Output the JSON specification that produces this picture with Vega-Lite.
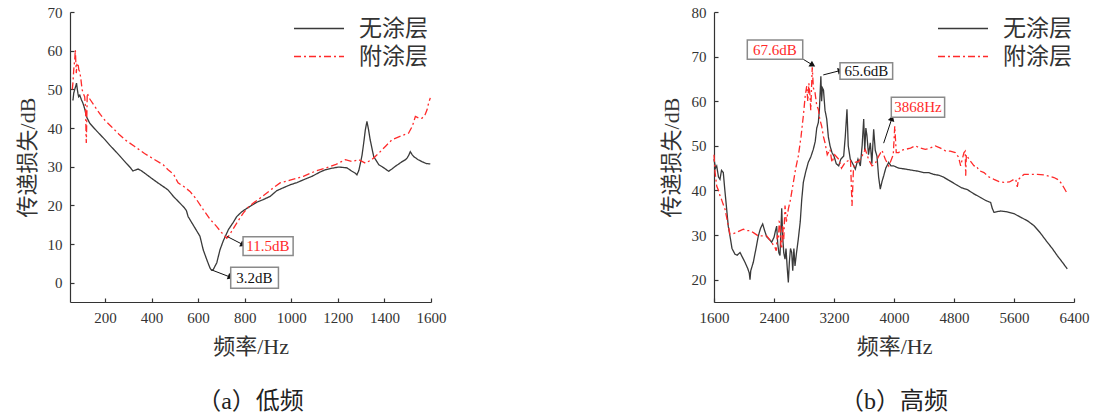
{
  "$schema": "https://vega.github.io/schema/vega-lite/v6.json",
  "padding": {"left": 16, "top": 5, "right": 5, "bottom": 5},
  "background": "white",
  "spacing": 283,
  "bounds": "flush",
  "config": {
    "view": {"stroke": null},
    "axis": {
      "grid": false,
      "domainColor": "#333333",
      "domainWidth": 1.2,
      "tickColor": "#333333",
      "tickWidth": 1.2,
      "tickSize": -4,
      "labelColor": "#333333",
      "titleColor": "#333333",
      "labelFont": "Liberation Serif",
      "labelFontSize": 15,
      "titleFont": "Liberation Serif, Noto Sans CJK SC",
      "titleFontSize": 22,
      "titleFontWeight": "normal",
      "labelFlush": false,
      "labelOverlap": false
    },
    "title": {
      "orient": "bottom",
      "font": "Liberation Serif, Noto Sans CJK SC",
      "fontSize": 24,
      "fontWeight": "normal",
      "color": "#222222",
      "anchor": "middle",
      "offset": 33
    }
  },
  "datasets": {
    "low": [
      {"f":60,"db":47.3,"s":"无涂层"},{"f":63,"db":47.3,"s":"无涂层"},{"f":66,"db":49,"s":"无涂层"},{"f":70,"db":49.9,"s":"无涂层"},{"f":74,"db":50.7,"s":"无涂层"},{"f":78,"db":51.6,"s":"无涂层"},{"f":81,"db":50.2,"s":"无涂层"},{"f":84,"db":49,"s":"无涂层"},{"f":87,"db":48.1,"s":"无涂层"},{"f":92,"db":48.5,"s":"无涂层"},{"f":99,"db":47.3,"s":"无涂层"},{"f":105,"db":46.5,"s":"无涂层"},{"f":110,"db":45.6,"s":"无涂层"},{"f":115,"db":44.5,"s":"无涂层"},{"f":120,"db":43,"s":"无涂层"},{"f":127,"db":42.2,"s":"无涂层"},{"f":134,"db":41.3,"s":"无涂层"},{"f":150,"db":40.2,"s":"无涂层"},{"f":165,"db":39.2,"s":"无涂层"},{"f":184,"db":38,"s":"无涂层"},{"f":200,"db":37,"s":"无涂层"},{"f":220,"db":35.6,"s":"无涂层"},{"f":242,"db":34.2,"s":"无涂层"},{"f":265,"db":32.7,"s":"无涂层"},{"f":290,"db":31,"s":"无涂层"},{"f":310,"db":29.7,"s":"无涂层"},{"f":320,"db":28.9,"s":"无涂层"},{"f":330,"db":29.1,"s":"无涂层"},{"f":342,"db":29.4,"s":"无涂层"},{"f":355,"db":29,"s":"无涂层"},{"f":371,"db":28.3,"s":"无涂层"},{"f":400,"db":27,"s":"无涂层"},{"f":430,"db":25.7,"s":"无涂层"},{"f":471,"db":24,"s":"无涂层"},{"f":494,"db":22.3,"s":"无涂层"},{"f":520,"db":20.7,"s":"无涂层"},{"f":542,"db":19.3,"s":"无涂层"},{"f":550,"db":18.6,"s":"无涂层"},{"f":557,"db":17.1,"s":"无涂层"},{"f":565,"db":16.3,"s":"无涂层"},{"f":578,"db":15,"s":"无涂层"},{"f":595,"db":13.3,"s":"无涂层"},{"f":608,"db":12,"s":"无涂层"},{"f":622,"db":8.5,"s":"无涂层"},{"f":637,"db":6,"s":"无涂层"},{"f":651,"db":3.8,"s":"无涂层"},{"f":658,"db":3.2,"s":"无涂层"},{"f":665,"db":3.4,"s":"无涂层"},{"f":680,"db":5.1,"s":"无涂层"},{"f":694,"db":8.5,"s":"无涂层"},{"f":708,"db":10.8,"s":"无涂层"},{"f":730,"db":13.7,"s":"无涂层"},{"f":751,"db":15.6,"s":"无涂层"},{"f":766,"db":17.1,"s":"无涂层"},{"f":785,"db":18.2,"s":"无涂层"},{"f":801,"db":18.9,"s":"无涂层"},{"f":825,"db":19.8,"s":"无涂层"},{"f":852,"db":20.8,"s":"无涂层"},{"f":880,"db":21.5,"s":"无涂层"},{"f":909,"db":22.3,"s":"无涂层"},{"f":938,"db":23.8,"s":"无涂层"},{"f":968,"db":24.6,"s":"无涂层"},{"f":995,"db":25.3,"s":"无涂层"},{"f":1025,"db":25.9,"s":"无涂层"},{"f":1052,"db":26.6,"s":"无涂层"},{"f":1089,"db":27.5,"s":"无涂层"},{"f":1120,"db":28.5,"s":"无涂层"},{"f":1146,"db":29.2,"s":"无涂层"},{"f":1175,"db":29.6,"s":"无涂层"},{"f":1204,"db":29.9,"s":"无涂层"},{"f":1239,"db":29.7,"s":"无涂层"},{"f":1261,"db":28.8,"s":"无涂层"},{"f":1275,"db":28.3,"s":"无涂层"},{"f":1282,"db":27.9,"s":"无涂层"},{"f":1290,"db":29,"s":"无涂层"},{"f":1297,"db":30.9,"s":"无涂层"},{"f":1304,"db":33,"s":"无涂层"},{"f":1311,"db":36.1,"s":"无涂层"},{"f":1318,"db":39.5,"s":"无涂层"},{"f":1325,"db":41.7,"s":"无涂层"},{"f":1332,"db":39.5,"s":"无涂层"},{"f":1339,"db":36.9,"s":"无涂层"},{"f":1354,"db":32.6,"s":"无涂层"},{"f":1376,"db":30.5,"s":"无涂层"},{"f":1400,"db":29.6,"s":"无涂层"},{"f":1418,"db":28.8,"s":"无涂层"},{"f":1432,"db":29.4,"s":"无涂层"},{"f":1447,"db":30.1,"s":"无涂层"},{"f":1476,"db":31.3,"s":"无涂层"},{"f":1490,"db":31.8,"s":"无涂层"},{"f":1497,"db":32.2,"s":"无涂层"},{"f":1505,"db":33,"s":"无涂层"},{"f":1511,"db":33.9,"s":"无涂层"},{"f":1518,"db":33.2,"s":"无涂层"},{"f":1526,"db":32.6,"s":"无涂层"},{"f":1545,"db":31.8,"s":"无涂层"},{"f":1561,"db":31.3,"s":"无涂层"},{"f":1580,"db":30.8,"s":"无涂层"},{"f":1597,"db":30.7,"s":"无涂层"},
      {"f":60,"db":50,"s":"附涂层"},{"f":63,"db":52,"s":"附涂层"},{"f":66,"db":55,"s":"附涂层"},{"f":70,"db":57.5,"s":"附涂层"},{"f":73,"db":60.2,"s":"附涂层"},{"f":75,"db":57,"s":"附涂层"},{"f":77,"db":54.2,"s":"附涂层"},{"f":80,"db":56.5,"s":"附涂层"},{"f":84,"db":56.8,"s":"附涂层"},{"f":88,"db":55,"s":"附涂层"},{"f":92,"db":54.6,"s":"附涂层"},{"f":97,"db":52.5,"s":"附涂层"},{"f":102,"db":49.9,"s":"附涂层"},{"f":108,"db":48.8,"s":"附涂层"},{"f":113,"db":48.1,"s":"附涂层"},{"f":117,"db":45,"s":"附涂层"},{"f":119,"db":38,"s":"附涂层"},{"f":120,"db":36.1,"s":"附涂层"},{"f":122,"db":42,"s":"附涂层"},{"f":124,"db":49,"s":"附涂层"},{"f":135,"db":47.5,"s":"附涂层"},{"f":156,"db":45.6,"s":"附涂层"},{"f":180,"db":43.5,"s":"附涂层"},{"f":200,"db":42,"s":"附涂层"},{"f":227,"db":40.4,"s":"附涂层"},{"f":260,"db":38.4,"s":"附涂层"},{"f":290,"db":36.8,"s":"附涂层"},{"f":328,"db":35.2,"s":"附涂层"},{"f":370,"db":33.4,"s":"附涂层"},{"f":414,"db":31.8,"s":"附涂层"},{"f":450,"db":30.5,"s":"附涂层"},{"f":471,"db":29.2,"s":"附涂层"},{"f":495,"db":28,"s":"附涂层"},{"f":514,"db":25.8,"s":"附涂层"},{"f":540,"db":24.8,"s":"附涂层"},{"f":565,"db":23.6,"s":"附涂层"},{"f":590,"db":21.8,"s":"附涂层"},{"f":622,"db":18.9,"s":"附涂层"},{"f":650,"db":16.5,"s":"附涂层"},{"f":680,"db":14.5,"s":"附涂层"},{"f":700,"db":13,"s":"附涂层"},{"f":716,"db":12,"s":"附涂层"},{"f":723,"db":11.5,"s":"附涂层"},{"f":733,"db":12.2,"s":"附涂层"},{"f":744,"db":13.3,"s":"附涂层"},{"f":770,"db":15.8,"s":"附涂层"},{"f":794,"db":18,"s":"附涂层"},{"f":815,"db":19.5,"s":"附涂层"},{"f":837,"db":20.6,"s":"附涂层"},{"f":865,"db":21.8,"s":"附涂层"},{"f":895,"db":23.2,"s":"附涂层"},{"f":925,"db":24.6,"s":"附涂层"},{"f":952,"db":25.8,"s":"附涂层"},{"f":995,"db":26.5,"s":"附涂层"},{"f":1052,"db":27.5,"s":"附涂层"},{"f":1102,"db":28.8,"s":"附涂层"},{"f":1146,"db":29.6,"s":"附涂层"},{"f":1189,"db":30.5,"s":"附涂层"},{"f":1232,"db":31.8,"s":"附涂层"},{"f":1261,"db":31.3,"s":"附涂层"},{"f":1290,"db":31.8,"s":"附涂层"},{"f":1318,"db":30.9,"s":"附涂层"},{"f":1345,"db":31.8,"s":"附涂层"},{"f":1376,"db":33.5,"s":"附涂层"},{"f":1405,"db":35.3,"s":"附涂层"},{"f":1433,"db":37,"s":"附涂层"},{"f":1470,"db":37.9,"s":"附涂层"},{"f":1504,"db":38.7,"s":"附涂层"},{"f":1520,"db":40.5,"s":"附涂层"},{"f":1533,"db":43,"s":"附涂层"},{"f":1547,"db":42.6,"s":"附涂层"},{"f":1561,"db":42.5,"s":"附涂层"},{"f":1575,"db":43.5,"s":"附涂层"},{"f":1583,"db":44.7,"s":"附涂层"},{"f":1590,"db":46.5,"s":"附涂层"},{"f":1597,"db":47.8,"s":"附涂层"}
    ],
    "high": [
      {"f":1600,"db":47,"s":"无涂层"},{"f":1620,"db":45,"s":"无涂层"},{"f":1636,"db":45.5,"s":"无涂层"},{"f":1660,"db":43,"s":"无涂层"},{"f":1680,"db":42.5,"s":"无涂层"},{"f":1700,"db":44.5,"s":"无涂层"},{"f":1724,"db":44,"s":"无涂层"},{"f":1745,"db":40,"s":"无涂层"},{"f":1769,"db":35.8,"s":"无涂层"},{"f":1790,"db":32,"s":"无涂层"},{"f":1813,"db":29.8,"s":"无涂层"},{"f":1840,"db":27,"s":"无涂层"},{"f":1880,"db":25.7,"s":"无涂层"},{"f":1910,"db":25.5,"s":"无涂层"},{"f":1947,"db":26.1,"s":"无涂层"},{"f":1980,"db":25,"s":"无涂层"},{"f":2013,"db":23.9,"s":"无涂层"},{"f":2050,"db":22.5,"s":"无涂层"},{"f":2070,"db":21.5,"s":"无涂层"},{"f":2080,"db":20,"s":"无涂层"},{"f":2090,"db":22,"s":"无涂层"},{"f":2124,"db":23.9,"s":"无涂层"},{"f":2160,"db":27,"s":"无涂层"},{"f":2191,"db":29.8,"s":"无涂层"},{"f":2220,"db":31.5,"s":"无涂层"},{"f":2249,"db":32.5,"s":"无涂层"},{"f":2275,"db":31,"s":"无涂层"},{"f":2303,"db":29.6,"s":"无涂层"},{"f":2340,"db":29,"s":"无涂层"},{"f":2369,"db":28.4,"s":"无涂层"},{"f":2400,"db":29.5,"s":"无涂层"},{"f":2420,"db":31,"s":"无涂层"},{"f":2436,"db":32,"s":"无涂层"},{"f":2450,"db":28,"s":"无涂层"},{"f":2465,"db":26,"s":"无涂层"},{"f":2480,"db":25.4,"s":"无涂层"},{"f":2490,"db":30,"s":"无涂层"},{"f":2503,"db":36,"s":"无涂层"},{"f":2515,"db":30,"s":"无涂层"},{"f":2530,"db":26,"s":"无涂层"},{"f":2547,"db":24.6,"s":"无涂层"},{"f":2560,"db":27,"s":"无涂层"},{"f":2575,"db":23,"s":"无涂层"},{"f":2591,"db":19.4,"s":"无涂层"},{"f":2605,"db":24,"s":"无涂层"},{"f":2620,"db":27,"s":"无涂层"},{"f":2636,"db":26.1,"s":"无涂层"},{"f":2650,"db":22,"s":"无涂层"},{"f":2665,"db":27,"s":"无涂层"},{"f":2680,"db":23.1,"s":"无涂层"},{"f":2700,"db":26,"s":"无涂层"},{"f":2724,"db":29.1,"s":"无涂层"},{"f":2750,"db":33,"s":"无涂层"},{"f":2770,"db":38,"s":"无涂层"},{"f":2791,"db":41.8,"s":"无涂层"},{"f":2820,"db":44,"s":"无涂层"},{"f":2857,"db":46.3,"s":"无涂层"},{"f":2890,"db":47.5,"s":"无涂层"},{"f":2924,"db":49.2,"s":"无涂层"},{"f":2950,"db":51,"s":"无涂层"},{"f":2970,"db":54,"s":"无涂层"},{"f":2991,"db":55.2,"s":"无涂层"},{"f":3005,"db":58,"s":"无涂层"},{"f":3025,"db":65.6,"s":"无涂层"},{"f":3035,"db":60,"s":"无涂层"},{"f":3045,"db":63,"s":"无涂层"},{"f":3060,"db":62.5,"s":"无涂层"},{"f":3080,"db":58,"s":"无涂层"},{"f":3103,"db":56,"s":"无涂层"},{"f":3125,"db":52,"s":"无涂层"},{"f":3147,"db":50,"s":"无涂层"},{"f":3173,"db":48.5,"s":"无涂层"},{"f":3200,"db":47.7,"s":"无涂层"},{"f":3230,"db":46,"s":"无涂层"},{"f":3263,"db":45.5,"s":"无涂层"},{"f":3290,"db":47,"s":"无涂层"},{"f":3329,"db":47.7,"s":"无涂层"},{"f":3350,"db":52,"s":"无涂层"},{"f":3373,"db":58.2,"s":"无涂层"},{"f":3390,"db":50,"s":"无涂层"},{"f":3417,"db":47,"s":"无涂层"},{"f":3450,"db":46,"s":"无涂层"},{"f":3484,"db":44.8,"s":"无涂层"},{"f":3520,"db":47,"s":"无涂层"},{"f":3551,"db":45.5,"s":"无涂层"},{"f":3575,"db":50,"s":"无涂层"},{"f":3596,"db":56,"s":"无涂层"},{"f":3610,"db":49,"s":"无涂层"},{"f":3625,"db":54,"s":"无涂层"},{"f":3640,"db":52.2,"s":"无涂层"},{"f":3660,"db":48,"s":"无涂层"},{"f":3684,"db":50.7,"s":"无涂层"},{"f":3705,"db":46,"s":"无涂层"},{"f":3729,"db":53.7,"s":"无涂层"},{"f":3750,"db":49,"s":"无涂层"},{"f":3773,"db":47.7,"s":"无涂层"},{"f":3795,"db":43,"s":"无涂层"},{"f":3817,"db":40.3,"s":"无涂层"},{"f":3840,"db":42,"s":"无涂层"},{"f":3863,"db":43.3,"s":"无涂层"},{"f":3890,"db":45,"s":"无涂层"},{"f":3929,"db":46.3,"s":"无涂层"},{"f":3960,"db":45.5,"s":"无涂层"},{"f":3996,"db":45.5,"s":"无涂层"},{"f":4063,"db":45,"s":"无涂层"},{"f":4150,"db":44.8,"s":"无涂层"},{"f":4250,"db":44.5,"s":"无涂层"},{"f":4330,"db":44.3,"s":"无涂层"},{"f":4400,"db":44,"s":"无涂层"},{"f":4463,"db":44,"s":"无涂层"},{"f":4530,"db":43.6,"s":"无涂层"},{"f":4600,"db":43.4,"s":"无涂层"},{"f":4660,"db":43,"s":"无涂层"},{"f":4729,"db":42.3,"s":"无涂层"},{"f":4780,"db":41.8,"s":"无涂层"},{"f":4840,"db":41.2,"s":"无涂层"},{"f":4900,"db":40.6,"s":"无涂层"},{"f":4977,"db":40.2,"s":"无涂层"},{"f":5060,"db":39.3,"s":"无涂层"},{"f":5156,"db":38.4,"s":"无涂层"},{"f":5230,"db":37.7,"s":"无涂层"},{"f":5289,"db":37.3,"s":"无涂层"},{"f":5310,"db":36,"s":"无涂层"},{"f":5333,"db":35.1,"s":"无涂层"},{"f":5420,"db":35.4,"s":"无涂层"},{"f":5511,"db":35.2,"s":"无涂层"},{"f":5600,"db":34.8,"s":"无涂层"},{"f":5689,"db":34,"s":"无涂层"},{"f":5780,"db":33.2,"s":"无涂层"},{"f":5867,"db":32.1,"s":"无涂层"},{"f":5950,"db":30.5,"s":"无涂层"},{"f":6044,"db":28.4,"s":"无涂层"},{"f":6110,"db":27,"s":"无涂层"},{"f":6177,"db":25.4,"s":"无涂层"},{"f":6250,"db":23.8,"s":"无涂层"},{"f":6311,"db":22.4,"s":"无涂层"},
      {"f":1600,"db":48,"s":"附涂层"},{"f":1615,"db":44,"s":"附涂层"},{"f":1636,"db":41,"s":"附涂层"},{"f":1660,"db":40,"s":"附涂层"},{"f":1680,"db":38.8,"s":"附涂层"},{"f":1700,"db":38,"s":"附涂层"},{"f":1720,"db":37,"s":"附涂层"},{"f":1747,"db":35.8,"s":"附涂层"},{"f":1780,"db":33,"s":"附涂层"},{"f":1813,"db":30.2,"s":"附涂层"},{"f":1850,"db":30.3,"s":"附涂层"},{"f":1902,"db":30.6,"s":"附涂层"},{"f":1950,"db":31,"s":"附涂层"},{"f":1991,"db":31.3,"s":"附涂层"},{"f":2040,"db":31,"s":"附涂层"},{"f":2080,"db":31,"s":"附涂层"},{"f":2130,"db":30.5,"s":"附涂层"},{"f":2191,"db":29.8,"s":"附涂层"},{"f":2250,"db":29.8,"s":"附涂层"},{"f":2303,"db":29.8,"s":"附涂层"},{"f":2340,"db":29,"s":"附涂层"},{"f":2369,"db":28.4,"s":"附涂层"},{"f":2400,"db":27.5,"s":"附涂层"},{"f":2413,"db":27.2,"s":"附涂层"},{"f":2430,"db":26.5,"s":"附涂层"},{"f":2445,"db":30,"s":"附涂层"},{"f":2458,"db":29.1,"s":"附涂层"},{"f":2470,"db":33,"s":"附涂层"},{"f":2480,"db":32.8,"s":"附涂层"},{"f":2490,"db":28,"s":"附涂层"},{"f":2503,"db":26.9,"s":"附涂层"},{"f":2515,"db":32,"s":"附涂层"},{"f":2530,"db":29,"s":"附涂层"},{"f":2547,"db":36.6,"s":"附涂层"},{"f":2565,"db":33,"s":"附涂层"},{"f":2591,"db":35.8,"s":"附涂层"},{"f":2620,"db":38,"s":"附涂层"},{"f":2658,"db":41.8,"s":"附涂层"},{"f":2690,"db":45,"s":"附涂层"},{"f":2724,"db":47.7,"s":"附涂层"},{"f":2760,"db":52,"s":"附涂层"},{"f":2791,"db":56.7,"s":"附涂层"},{"f":2815,"db":61,"s":"附涂层"},{"f":2836,"db":63.4,"s":"附涂层"},{"f":2850,"db":60,"s":"附涂层"},{"f":2865,"db":64,"s":"附涂层"},{"f":2880,"db":61.2,"s":"附涂层"},{"f":2890,"db":58,"s":"附涂层"},{"f":2910,"db":67.6,"s":"附涂层"},{"f":2925,"db":63,"s":"附涂层"},{"f":2947,"db":61.9,"s":"附涂层"},{"f":2970,"db":59,"s":"附涂层"},{"f":2991,"db":58.2,"s":"附涂层"},{"f":3010,"db":56,"s":"附涂层"},{"f":3036,"db":54.4,"s":"附涂层"},{"f":3060,"db":52,"s":"附涂层"},{"f":3080,"db":50.7,"s":"附涂层"},{"f":3110,"db":48,"s":"附涂层"},{"f":3147,"db":49.2,"s":"附涂层"},{"f":3173,"db":46.3,"s":"附涂层"},{"f":3210,"db":48,"s":"附涂层"},{"f":3263,"db":47,"s":"附涂层"},{"f":3300,"db":45,"s":"附涂层"},{"f":3351,"db":46.3,"s":"附涂层"},{"f":3420,"db":47,"s":"附涂层"},{"f":3440,"db":36.5,"s":"附涂层"},{"f":3460,"db":45,"s":"附涂层"},{"f":3484,"db":46.3,"s":"附涂层"},{"f":3530,"db":46.5,"s":"附涂层"},{"f":3573,"db":47.7,"s":"附涂层"},{"f":3617,"db":49.2,"s":"附涂层"},{"f":3660,"db":47,"s":"附涂层"},{"f":3707,"db":45.5,"s":"附涂层"},{"f":3750,"db":46,"s":"附涂层"},{"f":3796,"db":47.7,"s":"附涂层"},{"f":3840,"db":49,"s":"附涂层"},{"f":3884,"db":47,"s":"附涂层"},{"f":3930,"db":45.5,"s":"附涂层"},{"f":3951,"db":46.3,"s":"附涂层"},{"f":3990,"db":48,"s":"附涂层"},{"f":4010,"db":54.4,"s":"附涂层"},{"f":4030,"db":48.5,"s":"附涂层"},{"f":4063,"db":48.5,"s":"附涂层"},{"f":4100,"db":49,"s":"附涂层"},{"f":4151,"db":49.2,"s":"附涂层"},{"f":4220,"db":49.5,"s":"附涂层"},{"f":4284,"db":50,"s":"附涂层"},{"f":4350,"db":49.5,"s":"附涂层"},{"f":4417,"db":49.2,"s":"附涂层"},{"f":4480,"db":49.5,"s":"附涂层"},{"f":4551,"db":50,"s":"附涂层"},{"f":4620,"db":49.5,"s":"附涂层"},{"f":4684,"db":48.9,"s":"附涂层"},{"f":4750,"db":48.8,"s":"附涂层"},{"f":4817,"db":48.5,"s":"附涂层"},{"f":4860,"db":47.5,"s":"附涂层"},{"f":4889,"db":45.5,"s":"附涂层"},{"f":4910,"db":47,"s":"附涂层"},{"f":4933,"db":48.5,"s":"附涂层"},{"f":4950,"db":48.8,"s":"附涂层"},{"f":4956,"db":43.3,"s":"附涂层"},{"f":4965,"db":48,"s":"附涂层"},{"f":5000,"db":47,"s":"附涂层"},{"f":5067,"db":45.5,"s":"附涂层"},{"f":5100,"db":45.5,"s":"附涂层"},{"f":5130,"db":44.5,"s":"附涂层"},{"f":5200,"db":44,"s":"附涂层"},{"f":5270,"db":43,"s":"附涂层"},{"f":5333,"db":42.5,"s":"附涂层"},{"f":5400,"db":42,"s":"附涂层"},{"f":5467,"db":41.8,"s":"附涂层"},{"f":5540,"db":41.9,"s":"附涂层"},{"f":5600,"db":42.5,"s":"附涂层"},{"f":5623,"db":42.5,"s":"附涂层"},{"f":5644,"db":40.8,"s":"附涂层"},{"f":5660,"db":42.5,"s":"附涂层"},{"f":5733,"db":43.6,"s":"附涂层"},{"f":5800,"db":43.6,"s":"附涂层"},{"f":5911,"db":43.6,"s":"附涂层"},{"f":6000,"db":43.5,"s":"附涂层"},{"f":6070,"db":43.2,"s":"附涂层"},{"f":6133,"db":42.9,"s":"附涂层"},{"f":6180,"db":42.5,"s":"附涂层"},{"f":6222,"db":41.8,"s":"附涂层"},{"f":6270,"db":40.5,"s":"附涂层"},{"f":6300,"db":39.6,"s":"附涂层"}
    ],
    "annLow": [
      {"s":"附涂层","label":"11.5dB","x1":793,"x2":1008,"y1":11.9,"y2":7.0,"tx":900,"ty":9.45,"ax":723,"ay":12.0,"bx":794,"by":9.8},
      {"s":"无涂层","label":"3.2dB","x1":740,"x2":945,"y1":4.0,"y2":-1.45,"tx":842,"ty":1.27,"ax":658,"ay":3.3,"bx":740,"by":1.4}
    ],
    "annHigh": [
      {"s":"附涂层","label":"67.6dB","x1":2044,"x2":2783,"y1":73.7,"y2":69.4,"tx":2413,"ty":71.55,"ax":2790,"ay":69.4,"bx":2916,"by":68.1},
      {"s":"无涂层","label":"65.6dB","x1":3280,"x2":3982,"y1":68.65,"y2":64.93,"tx":3631,"ty":66.8,"ax":3057,"ay":65.9,"bx":3289,"by":66.9},
      {"s":"附涂层","label":"3868Hz","x1":3964,"x2":4675,"y1":60.9,"y2":56.4,"tx":4319,"ty":58.65,"ax":3862,"ay":50.6,"bx":3973,"by":56.2}
    ]
  },
  "resolve": {
    "scale": {"x": "independent", "y": "independent", "color": "independent", "strokeDash": "independent"},
    "legend": {"color": "independent", "strokeDash": "independent"}
  },
  "hconcat": [
    {
      "width": 361,
      "height": 290,
      "title": "（a）低频",
      "layer": [
        {
          "data": {"name": "low"},
          "mark": {"type": "line", "strokeWidth": 1.3},
          "encoding": {
            "x": {"field": "f", "type": "quantitative",
              "scale": {"domain": [50, 1600], "nice": false, "zero": false},
              "axis": {"title": "频率/Hz", "format": "d",
                "values": [200,400,600,800,1000,1200,1400,1600],
                "labelPadding": 12, "titlePadding": 11}},
            "y": {"field": "db", "type": "quantitative",
              "scale": {"domain": [-5, 70], "nice": false, "zero": false},
              "axis": {"title": "传递损失/dB", "format": "d",
                "values": [0,10,20,30,40,50,60,70],
                "labelPadding": 12, "titlePadding": 8}},
            "color": {"field": "s", "type": "nominal",
              "scale": {"domain": ["无涂层", "附涂层"], "range": ["#3a3a3a", "#ff2a2a"]},
              "legend": {"orient": "none", "legendX": 223, "legendY": 3, "title": null,
                "symbolType": "stroke", "symbolSize": 2500, "symbolStrokeWidth": 1.3,
                "labelFont": "Noto Sans CJK SC", "labelFontSize": 23, "labelColor": "#333333",
                "labelOffset": 14, "clipHeight": 27, "rowPadding": 1, "padding": 0}},
            "strokeDash": {"field": "s", "type": "nominal",
              "scale": {"domain": ["无涂层", "附涂层"], "range": [[1, 0], [7, 3, 2, 3]]},
              "legend": {"orient": "none", "legendX": 223, "legendY": 3, "title": null,
                "symbolType": "stroke", "symbolSize": 2500, "symbolStrokeWidth": 1.3,
                "labelFont": "Noto Sans CJK SC", "labelFontSize": 23, "labelColor": "#333333",
                "labelOffset": 14, "clipHeight": 27, "rowPadding": 1, "padding": 0}}
          }
        },
        {
          "data": {"name": "annLow"},
          "mark": {"type": "rule", "color": "#111111", "strokeWidth": 1},
          "encoding": {
            "x": {"field": "ax", "type": "quantitative"},
            "y": {"field": "ay", "type": "quantitative"},
            "x2": {"field": "bx"},
            "y2": {"field": "by"}
          }
        },
        {
          "data": {"name": "annLow"},
          "transform": [{"filter": "datum.label === '11.5dB'"}],
          "mark": {"type": "point", "shape": "triangle-right", "filled": true, "color": "#111111", "size": 45, "angle": 26, "opacity": 1},
          "encoding": {
            "x": {"field": "bx", "type": "quantitative"},
            "y": {"field": "by", "type": "quantitative"}
          }
        },
        {
          "data": {"name": "annLow"},
          "transform": [{"filter": "datum.label === '3.2dB'"}],
          "mark": {"type": "point", "shape": "triangle-right", "filled": true, "color": "#111111", "size": 45, "angle": 21, "opacity": 1},
          "encoding": {
            "x": {"field": "bx", "type": "quantitative"},
            "y": {"field": "by", "type": "quantitative"}
          }
        },
        {
          "data": {"name": "annLow"},
          "mark": {"type": "rect", "fill": "white", "stroke": "#8a8a8a", "strokeWidth": 1.5},
          "encoding": {
            "x": {"field": "x1", "type": "quantitative"},
            "x2": {"field": "x2"},
            "y": {"field": "y1", "type": "quantitative"},
            "y2": {"field": "y2"}
          }
        },
        {
          "data": {"name": "annLow"},
          "transform": [{"filter": "datum.s === '附涂层'"}],
          "mark": {"type": "text", "font": "Liberation Serif", "fontSize": 15, "color": "#ff2a2a", "align": "center", "baseline": "middle"},
          "encoding": {
            "x": {"field": "tx", "type": "quantitative"},
            "y": {"field": "ty", "type": "quantitative"},
            "text": {"field": "label"}
          }
        },
        {
          "data": {"name": "annLow"},
          "transform": [{"filter": "datum.s === '无涂层'"}],
          "mark": {"type": "text", "font": "Liberation Serif", "fontSize": 15, "color": "#111111", "align": "center", "baseline": "middle"},
          "encoding": {
            "x": {"field": "tx", "type": "quantitative"},
            "y": {"field": "ty", "type": "quantitative"},
            "text": {"field": "label"}
          }
        }
      ]
    },
    {
      "width": 360,
      "height": 290,
      "title": "（b）高频",
      "layer": [
        {
          "data": {"name": "high"},
          "mark": {"type": "line", "strokeWidth": 1.3},
          "encoding": {
            "x": {"field": "f", "type": "quantitative",
              "scale": {"domain": [1600, 6400], "nice": false, "zero": false},
              "axis": {"title": "频率/Hz", "format": "d",
                "values": [1600,2400,3200,4000,4800,5600,6400],
                "labelPadding": 12, "titlePadding": 11}},
            "y": {"field": "db", "type": "quantitative",
              "scale": {"domain": [15, 80], "nice": false, "zero": false},
              "axis": {"title": "传递损失/dB", "format": "d",
                "values": [20,30,40,50,60,70,80],
                "labelPadding": 12, "titlePadding": 8}},
            "color": {"field": "s", "type": "nominal",
              "scale": {"domain": ["无涂层", "附涂层"], "range": ["#3a3a3a", "#ff2a2a"]},
              "legend": {"orient": "none", "legendX": 223, "legendY": 3, "title": null,
                "symbolType": "stroke", "symbolSize": 2500, "symbolStrokeWidth": 1.3,
                "labelFont": "Noto Sans CJK SC", "labelFontSize": 23, "labelColor": "#333333",
                "labelOffset": 14, "clipHeight": 27, "rowPadding": 1, "padding": 0}},
            "strokeDash": {"field": "s", "type": "nominal",
              "scale": {"domain": ["无涂层", "附涂层"], "range": [[1, 0], [7, 3, 2, 3]]},
              "legend": {"orient": "none", "legendX": 223, "legendY": 3, "title": null,
                "symbolType": "stroke", "symbolSize": 2500, "symbolStrokeWidth": 1.3,
                "labelFont": "Noto Sans CJK SC", "labelFontSize": 23, "labelColor": "#333333",
                "labelOffset": 14, "clipHeight": 27, "rowPadding": 1, "padding": 0}}
          }
        },
        {
          "data": {"name": "annHigh"},
          "mark": {"type": "rule", "color": "#111111", "strokeWidth": 1},
          "encoding": {
            "x": {"field": "ax", "type": "quantitative"},
            "y": {"field": "ay", "type": "quantitative"},
            "x2": {"field": "bx"},
            "y2": {"field": "by"}
          }
        },
        {
          "data": {"name": "annHigh"},
          "transform": [{"filter": "datum.label === '67.6dB'"}],
          "mark": {"type": "point", "shape": "triangle-right", "filled": true, "color": "#111111", "size": 45, "angle": 31, "opacity": 1},
          "encoding": {
            "x": {"field": "bx", "type": "quantitative"},
            "y": {"field": "by", "type": "quantitative"}
          }
        },
        {
          "data": {"name": "annHigh"},
          "transform": [{"filter": "datum.label === '65.6dB'"}],
          "mark": {"type": "point", "shape": "triangle-right", "filled": true, "color": "#111111", "size": 45, "angle": 346, "opacity": 1},
          "encoding": {
            "x": {"field": "bx", "type": "quantitative"},
            "y": {"field": "by", "type": "quantitative"}
          }
        },
        {
          "data": {"name": "annHigh"},
          "transform": [{"filter": "datum.label === '3868Hz'"}],
          "mark": {"type": "point", "shape": "triangle-right", "filled": true, "color": "#111111", "size": 45, "angle": 288, "opacity": 1},
          "encoding": {
            "x": {"field": "bx", "type": "quantitative"},
            "y": {"field": "by", "type": "quantitative"}
          }
        },
        {
          "data": {"name": "annHigh"},
          "mark": {"type": "rect", "fill": "white", "stroke": "#8a8a8a", "strokeWidth": 1.5},
          "encoding": {
            "x": {"field": "x1", "type": "quantitative"},
            "x2": {"field": "x2"},
            "y": {"field": "y1", "type": "quantitative"},
            "y2": {"field": "y2"}
          }
        },
        {
          "data": {"name": "annHigh"},
          "transform": [{"filter": "datum.s === '附涂层'"}],
          "mark": {"type": "text", "font": "Liberation Serif", "fontSize": 15, "color": "#ff2a2a", "align": "center", "baseline": "middle"},
          "encoding": {
            "x": {"field": "tx", "type": "quantitative"},
            "y": {"field": "ty", "type": "quantitative"},
            "text": {"field": "label"}
          }
        },
        {
          "data": {"name": "annHigh"},
          "transform": [{"filter": "datum.s === '无涂层'"}],
          "mark": {"type": "text", "font": "Liberation Serif", "fontSize": 15, "color": "#111111", "align": "center", "baseline": "middle"},
          "encoding": {
            "x": {"field": "tx", "type": "quantitative"},
            "y": {"field": "ty", "type": "quantitative"},
            "text": {"field": "label"}
          }
        }
      ]
    }
  ]
}
